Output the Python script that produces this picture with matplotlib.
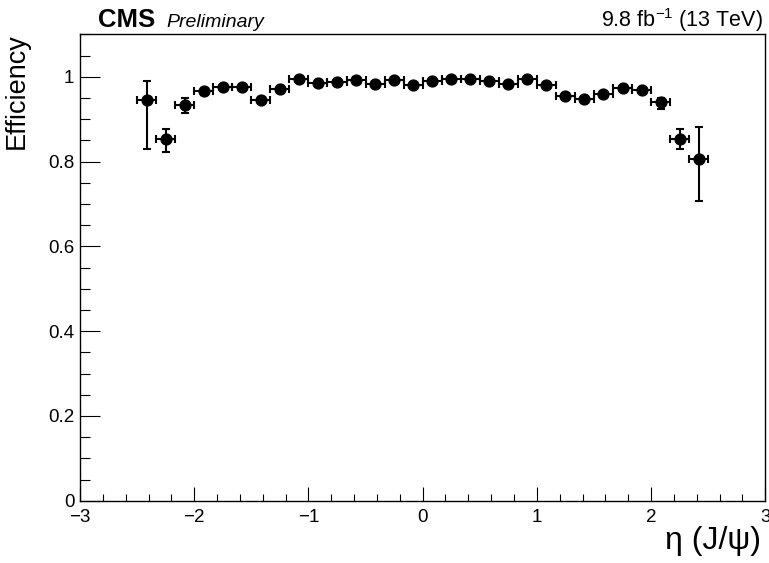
import matplotlib
matplotlib.use("Agg")
import matplotlib.pyplot as plt
from matplotlib.ticker import MultipleLocator, FixedLocator, FixedFormatter

plt.rcParams['font.family'] = ['Liberation Sans', 'DejaVu Sans']

eta_centers = [-2.4167, -2.25, -2.0833, -1.9167, -1.75, -1.5833, -1.4167, -1.25,
               -1.0833, -0.9167, -0.75, -0.5833, -0.4167, -0.25, -0.0833,
               0.0833, 0.25, 0.4167, 0.5833, 0.75, 0.9167, 1.0833, 1.25,
               1.4167, 1.5833, 1.75, 1.9167, 2.0833, 2.25, 2.4167]
eta_halfwidth = [0.0833] * 30
efficiency = [0.945, 0.852, 0.933, 0.966, 0.975, 0.975, 0.945, 0.970,
              0.995, 0.986, 0.987, 0.992, 0.983, 0.992, 0.981,
              0.990, 0.995, 0.995, 0.989, 0.983, 0.994, 0.980, 0.954,
              0.948, 0.959, 0.973, 0.969, 0.940, 0.854, 0.807]
err_low = [0.116, 0.029, 0.018, 0.008, 0.005, 0.005, 0.006, 0.005,
           0.004, 0.004, 0.004, 0.004, 0.004, 0.004, 0.004,
           0.004, 0.004, 0.004, 0.004, 0.004, 0.004, 0.005, 0.005,
           0.005, 0.005, 0.005, 0.006, 0.017, 0.025, 0.099]
err_high = [0.046, 0.025, 0.016, 0.006, 0.005, 0.005, 0.006, 0.005,
            0.004, 0.004, 0.004, 0.004, 0.004, 0.004, 0.004,
            0.004, 0.004, 0.004, 0.004, 0.004, 0.004, 0.005, 0.005,
            0.005, 0.005, 0.005, 0.006, 0.009, 0.023, 0.074]

xtick_values = [-3, -2, -1, 0, 1, 2, 3]
xtick_labels = ['\u22123', '\u22122', '\u22121', '0', '1', '2', '3']
ytick_values = [0, 0.2, 0.4, 0.6, 0.8, 1.0]
ytick_labels = ['0', '0.2', '0.4', '0.6', '0.8', '1']

W, H = 769, 563
fig = plt.figure(figsize=(W / 100, H / 100), dpi=100)
ax = fig.add_axes([80 / W, 1 - 500.7 / H, (765.3 - 80) / W, (500.7 - 34.3) / H])

ax.errorbar(eta_centers, efficiency, xerr=eta_halfwidth, yerr=[err_low, err_high],
            fmt='o', color='black', ms=7.8, elinewidth=1.5, capsize=3, capthick=1.5,
            zorder=3)

ax.set_xlim(-3, 3)
ax.set_ylim(0, 1.1)
ax.xaxis.set_major_locator(FixedLocator(xtick_values))
ax.xaxis.set_major_formatter(FixedFormatter(xtick_labels))
ax.xaxis.set_minor_locator(MultipleLocator(0.2))
ax.yaxis.set_major_locator(FixedLocator(ytick_values))
ax.yaxis.set_major_formatter(FixedFormatter(ytick_labels))
ax.yaxis.set_minor_locator(MultipleLocator(0.05))

ax.tick_params(axis='both', which='both', direction='in', top=False, right=False,
               width=0.8, color='black')
ax.tick_params(axis='x', which='major', length=10, pad=6, labelsize=13.5)
ax.tick_params(axis='x', which='minor', length=5)
ax.tick_params(axis='y', which='major', length=14.5, pad=4, labelsize=13.5)
ax.tick_params(axis='y', which='minor', length=7.2)
for s in ax.spines.values():
    s.set_linewidth(1.0)
    s.set_color('black')

fig.text(98 / W, 1 - 27 / H, 'CMS', fontsize=18.5, fontweight='bold', ha='left', va='baseline')
fig.text(166 / W, 1 - 27 / H, 'Preliminary', fontsize=14, style='italic', ha='left', va='baseline')
fig.text(763 / W, 1 - 27.5 / H, r'9.8 fb$^{\mathregular{-1}}$ (13 TeV)', fontsize=15.5,
         ha='right', va='baseline')

fig.text(23.5 / W, 1 - 33 / H, 'Efficiency', fontsize=19.5, rotation=90,
         rotation_mode='anchor', ha='right', va='baseline')
fig.text(761 / W, 1 - 549 / H, '\u03b7 (J/\u03c8)', fontsize=23, ha='right', va='baseline')

fig.savefig('out.png', dpi=100)
